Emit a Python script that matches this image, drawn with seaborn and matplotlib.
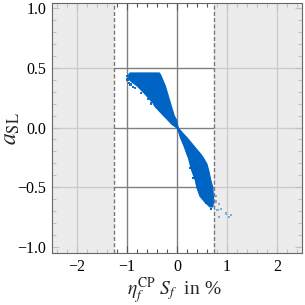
import numpy as np
import matplotlib
matplotlib.use('Agg')
import matplotlib.pyplot as plt
import seaborn as sns
from matplotlib.ticker import MultipleLocator

# envelope of the dense cloud: for each a_SL value, x range
cloud_y = [0.46, 0.44, 0.41, 0.39, 0.35, 0.28, 0.21, 0.18, 0.10, 0.07, 0.03, 0.0,
           -0.04, -0.08, -0.16, -0.22, -0.25, -0.30, -0.36, -0.44, -0.50, -0.57, -0.62, -0.66]
cloud_xlo = [-0.95, -0.98, -0.97, -0.93, -0.80, -0.64, -0.49, -0.45, -0.27, -0.20, -0.11, -0.01,
             0.03, 0.06, 0.14, 0.19, 0.22, 0.25, 0.29, 0.36, 0.39, 0.45, 0.55, 0.65]
cloud_xhi = [-0.36, -0.33, -0.30, -0.28, -0.24, -0.19, -0.14, -0.12, -0.06, -0.02, 0.00, 0.02,
             0.10, 0.19, 0.35, 0.47, 0.52, 0.59, 0.63, 0.67, 0.71, 0.72, 0.72, 0.71]

# loose points around the cloud
stray_x = [-1.0, -0.99, -0.96, -0.93, -0.88, -0.84, -0.72, -0.58, -0.52, 0.27, 0.33, 0.40,
           0.48, 0.51, 0.58, 0.62, 0.68, 0.77, 0.78, 0.81, 0.84, 0.84, 0.88, 0.98, 1.04, 1.08]
stray_y = [0.43, 0.40, 0.37, 0.36, 0.34, 0.33, 0.29, 0.24, 0.20, -0.34, -0.42, -0.47,
           -0.46, -0.53, -0.63, -0.60, -0.68, -0.57, -0.62, -0.69, -0.64, -0.75, -0.68, -0.72, -0.75, -0.73]
stray_a = [0.9, 0.9, 0.9, 0.9, 0.9, 0.9, 0.9, 0.9, 0.9, 1, 1, 1,
           1, 1, 1, 1, 1, 0.45, 0.45, 0.45, 0.45, 0.45, 0.45, 0.45, 0.45, 0.45]

excl_lo, excl_hi = -1.25, 0.75
xticks = [-2, -1, 0, 1, 2]
yticks = [-1.0, -0.5, 0.0, 0.5, 1.0]

sns.set_style('ticks')
plt.rcParams['font.family'] = ['Liberation Serif', 'DejaVu Serif']
plt.rcParams['mathtext.fontset'] = 'stix'

blue = '#0064c4'
fig = plt.figure(figsize=(3.05, 3.05), dpi=100)
ax = fig.add_axes([0.170, 0.170, 0.820, 0.820])

for t in xticks:
    ax.axvline(t, color='#808080', lw=1.0, zorder=0)
for t in [-0.5, 0.0, 0.5]:
    ax.axhline(t, color='#808080', lw=1.0, zorder=0)

ax.axvspan(-2.5, excl_lo, color='#e6e6e6', alpha=0.75, lw=0, zorder=1)
ax.axvspan(excl_hi, 2.5, color='#e6e6e6', alpha=0.75, lw=0, zorder=1)
ax.axvline(excl_lo, color='#777777', lw=1.0, ls=(0, (3, 1.5)), zorder=2)
ax.axvline(excl_hi, color='#777777', lw=1.0, ls=(0, (3, 1.5)), zorder=4)

ax.fill_betweenx(cloud_y, cloud_xlo, cloud_xhi, color=blue, lw=0.8, edgecolor=blue, zorder=3)
cols = [(0.0, 0.39, 0.77, a) for a in stray_a]
ax.scatter(stray_x, stray_y, s=3, c=cols, marker='s', lw=0, zorder=3)

ax.set_xlim(-2.5, 2.5)
ax.set_ylim(-1.05, 1.04)
ax.set_xticks(xticks)
ax.set_xticklabels(['\u22122', '\u22121', '0', '1', '2'])
ax.set_yticks(yticks)
ax.set_yticklabels(['\u22121.0', '\u22120.5', '0.0', '0.5', '1.0'])
ax.xaxis.set_minor_locator(MultipleLocator(0.2))
ax.yaxis.set_minor_locator(MultipleLocator(0.1))
ax.tick_params(which='both', direction='in', top=True, right=True, colors='#555555',
               labelcolor='black', labelsize=11.5, pad=4)
ax.tick_params(which='major', length=5, width=0.8)
ax.tick_params(which='minor', length=3, width=0.8)
for s in ax.spines.values():
    s.set_color('#666666')
    s.set_linewidth(0.8)

ax.set_xlabel(r'$\eta_f^{\rm CP}\ S_f$  in %', fontsize=14, va='center')
ax.set_ylabel(r'$a_{\rm SL}$', fontsize=17, va='center')
ax.xaxis.set_label_coords(0.49, -0.15)
ax.yaxis.set_label_coords(-0.16, 0.5)

fig.savefig('out.png', dpi=100)
